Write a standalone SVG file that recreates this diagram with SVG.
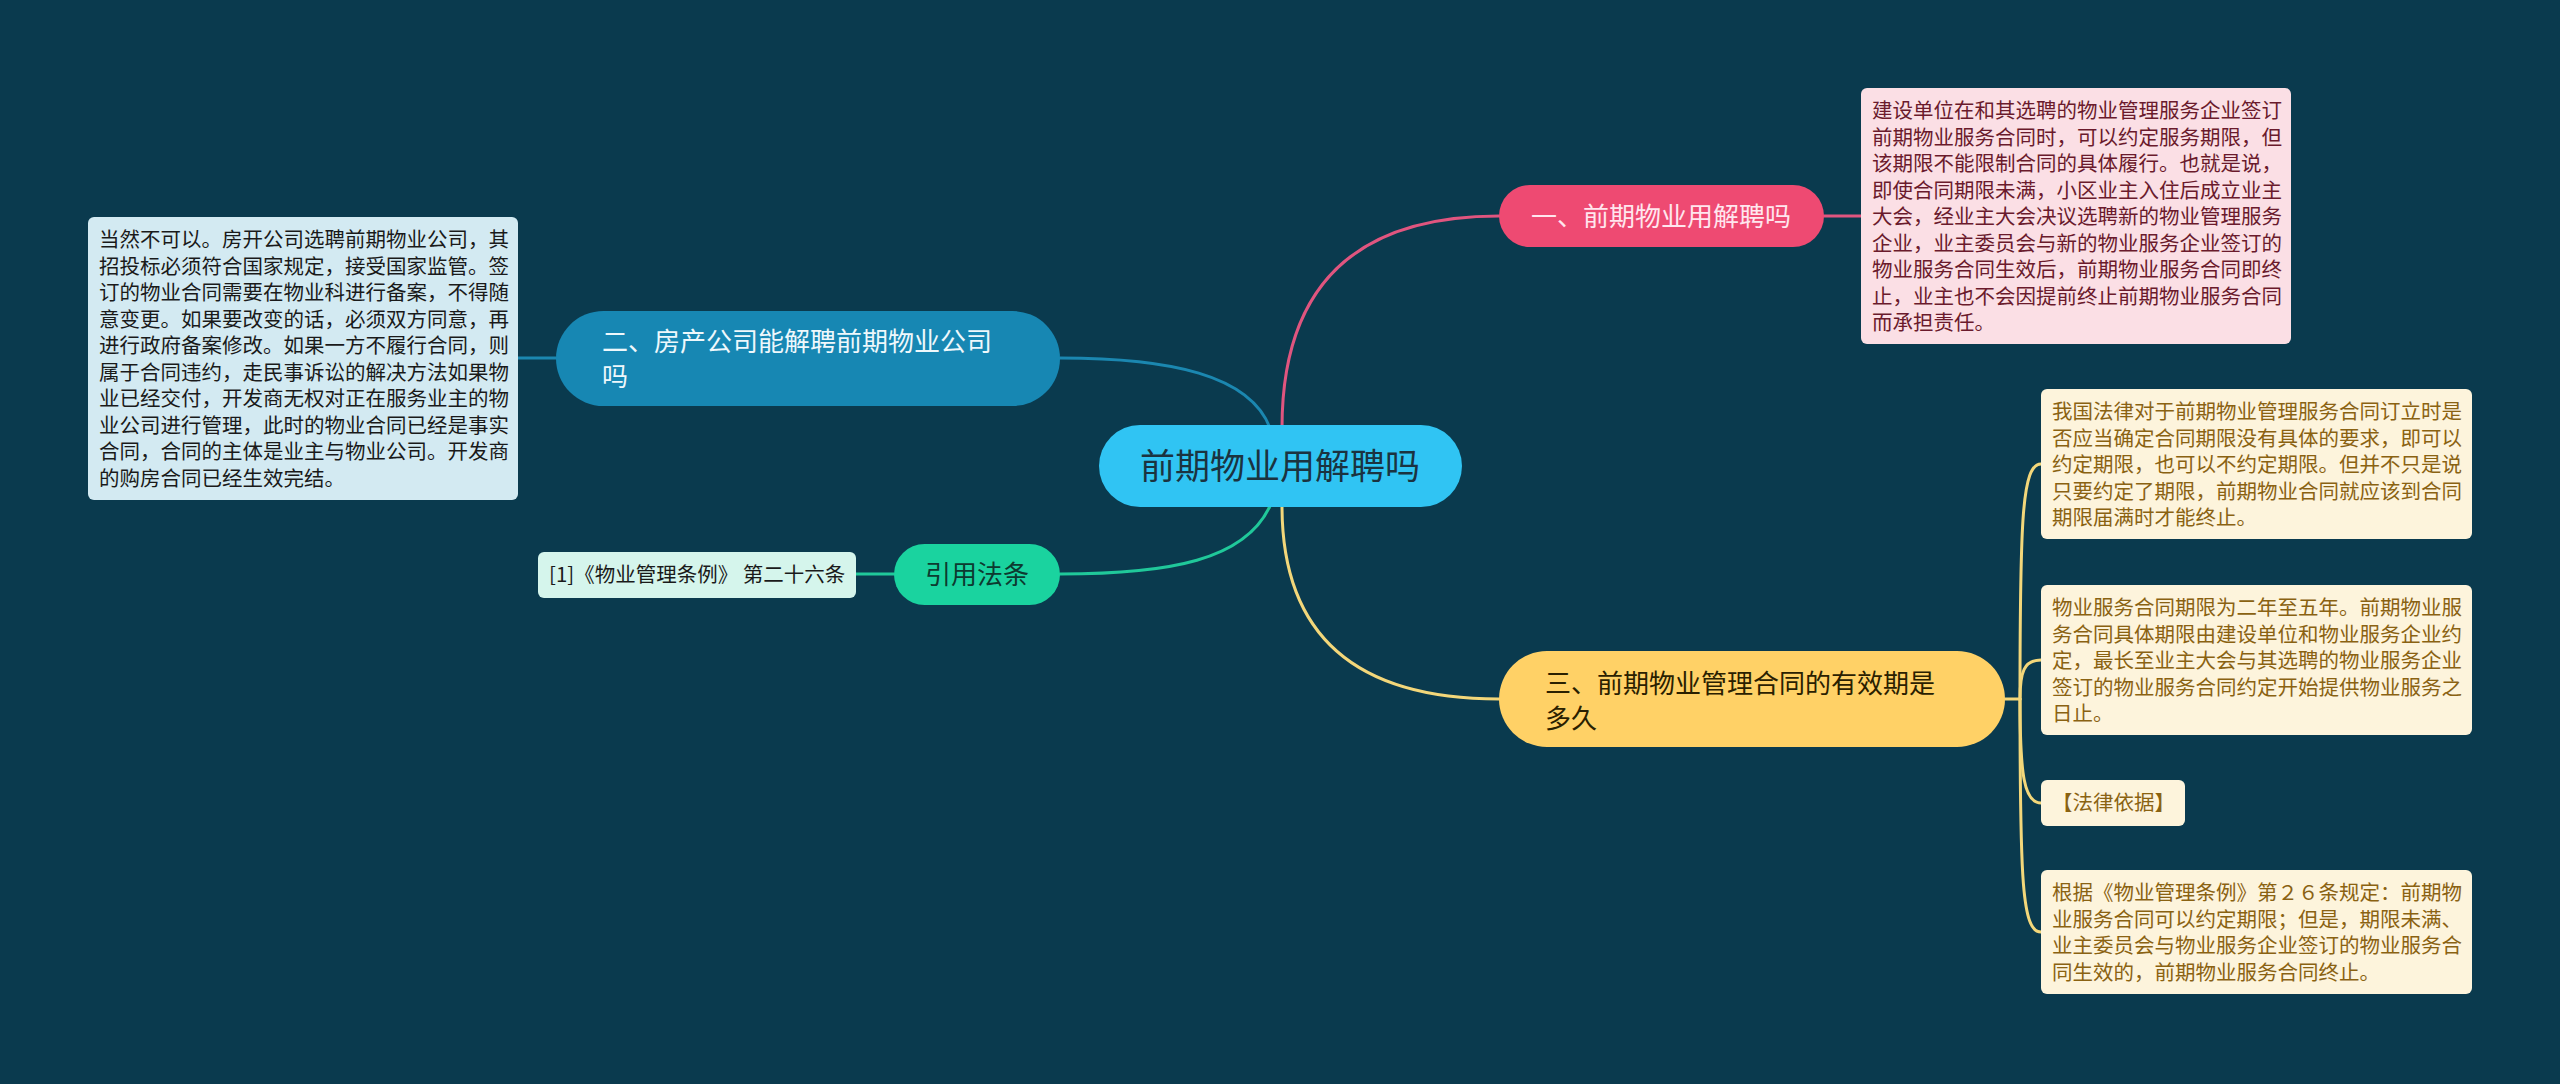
<svg xmlns="http://www.w3.org/2000/svg" width="2560" height="1084" viewBox="0 0 2560 1084">
<style>
text{font-family:"Noto Sans CJK SC","Noto Sans",sans-serif}
.leaf{font-size:20.5px}
.main{font-size:26px}
.conn{fill:none;stroke-width:3;stroke-linecap:round}
</style>
<rect x="0" y="0" width="2560" height="1084" fill="#0a3a4e"/>
<g id="connectors">
<path class="conn" stroke="#e0557f" d="M1282,428 Q1282,216 1499,216"/>
<path class="conn" stroke="#e0557f" d="M1824,216 L1861,216"/>
<path class="conn" stroke="#1b87b0" d="M1270,428 C1250,375 1170,358 1060,358"/>
<path class="conn" stroke="#1b87b0" d="M556,358 L518,358"/>
<path class="conn" stroke="#20c89a" d="M1270,506 C1245,560 1170,574 1060,574"/>
<path class="conn" stroke="#20c89a" d="M894,574 L856,574"/>
<path class="conn" stroke="#f3d77a" d="M1282,506 Q1282,699 1499,699"/>
<path class="conn" stroke="#f3d77a" d="M2005,699 L2020,699"/>
<path class="conn" stroke="#f3d77a" d="M2020,699 C2020,520 2022,464 2041,464"/>
<path class="conn" stroke="#f3d77a" d="M2020,699 C2020,672 2024,660 2041,660"/>
<path class="conn" stroke="#f3d77a" d="M2020,699 C2020,775 2024,803 2041,803"/>
<path class="conn" stroke="#f3d77a" d="M2020,699 C2020,880 2022,932 2041,932"/>
</g>
<g id="root">
<rect x="1099" y="425" width="363" height="82" rx="41" fill="#30c4f3"/>
<text x="1280" y="479" font-size="35" text-anchor="middle" fill="#1b3340">前期物业用解聘吗</text>
</g>
<g id="n1">
<rect x="1499" y="185" width="325" height="62" rx="31" fill="#ee4a72"/>
<text class="main" x="1661" y="225.5" text-anchor="middle" fill="#ffe6ee">一、前期物业用解聘吗</text>
</g>
<g id="n1-leaf">
<rect x="1861" y="88" width="430" height="256" rx="6" fill="#fbdfe5"/>
<text class="leaf" fill="#6a1a2c"><tspan x="1872" y="118">建设单位在和其选聘的物业管理服务企业签订</tspan><tspan x="1872" dy="26.5">前期物业服务合同时，可以约定服务期限，但</tspan><tspan x="1872" dy="26.5">该期限不能限制合同的具体履行。也就是说，</tspan><tspan x="1872" dy="26.5">即使合同期限未满，小区业主入住后成立业主</tspan><tspan x="1872" dy="26.5">大会，经业主大会决议选聘新的物业管理服务</tspan><tspan x="1872" dy="26.5">企业，业主委员会与新的物业服务企业签订的</tspan><tspan x="1872" dy="26.5">物业服务合同生效后，前期物业服务合同即终</tspan><tspan x="1872" dy="26.5">止，业主也不会因提前终止前期物业服务合同</tspan><tspan x="1872" dy="26.5">而承担责任。</tspan></text>
</g>
<g id="n2">
<rect x="556" y="311" width="504" height="95" rx="47.5" fill="#1787b3"/>
<text class="main" fill="#eef8fc"><tspan x="602" y="351">二、房产公司能解聘前期物业公司</tspan><tspan x="602" dy="35">吗</tspan></text>
</g>
<g id="n2-leaf">
<rect x="88" y="217" width="430" height="283" rx="6" fill="#d3eaf2"/>
<text class="leaf" fill="#1a1a1a"><tspan x="99" y="247">当然不可以。房开公司选聘前期物业公司，其</tspan><tspan x="99" dy="26.5">招投标必须符合国家规定，接受国家监管。签</tspan><tspan x="99" dy="26.5">订的物业合同需要在物业科进行备案，不得随</tspan><tspan x="99" dy="26.5">意变更。如果要改变的话，必须双方同意，再</tspan><tspan x="99" dy="26.5">进行政府备案修改。如果一方不履行合同，则</tspan><tspan x="99" dy="26.5">属于合同违约，走民事诉讼的解决方法如果物</tspan><tspan x="99" dy="26.5">业已经交付，开发商无权对正在服务业主的物</tspan><tspan x="99" dy="26.5">业公司进行管理，此时的物业合同已经是事实</tspan><tspan x="99" dy="26.5">合同，合同的主体是业主与物业公司。开发商</tspan><tspan x="99" dy="26.5">的购房合同已经生效完结。</tspan></text>
</g>
<g id="n3">
<rect x="894" y="544" width="166" height="61" rx="30.5" fill="#1ad39f"/>
<text class="main" x="977" y="583.5" text-anchor="middle" fill="#0d3a30">引用法条</text>
</g>
<g id="n3-leaf">
<rect x="538" y="552" width="318" height="46" rx="6" fill="#d5f5ec"/>
<text class="leaf" x="549" y="582" fill="#1a1a1a">[1]《物业管理条例》 第二十六条</text>
</g>
<g id="n4">
<rect x="1499" y="651" width="506" height="96" rx="48" fill="#ffd166"/>
<text class="main" fill="#2a2000"><tspan x="1545" y="693">三、前期物业管理合同的有效期是</tspan><tspan x="1545" dy="35">多久</tspan></text>
</g>
<g id="n4-leaf1">
<rect x="2041" y="389" width="431" height="150" rx="6" fill="#fdf4dc"/>
<text class="leaf" fill="#8a6212"><tspan x="2052" y="419">我国法律对于前期物业管理服务合同订立时是</tspan><tspan x="2052" dy="26.5">否应当确定合同期限没有具体的要求，即可以</tspan><tspan x="2052" dy="26.5">约定期限，也可以不约定期限。但并不只是说</tspan><tspan x="2052" dy="26.5">只要约定了期限，前期物业合同就应该到合同</tspan><tspan x="2052" dy="26.5">期限届满时才能终止。</tspan></text>
</g>
<g id="n4-leaf2">
<rect x="2041" y="585" width="431" height="150" rx="6" fill="#fdf4dc"/>
<text class="leaf" fill="#8a6212"><tspan x="2052" y="615">物业服务合同期限为二年至五年。前期物业服</tspan><tspan x="2052" dy="26.5">务合同具体期限由建设单位和物业服务企业约</tspan><tspan x="2052" dy="26.5">定，最长至业主大会与其选聘的物业服务企业</tspan><tspan x="2052" dy="26.5">签订的物业服务合同约定开始提供物业服务之</tspan><tspan x="2052" dy="26.5">日止。</tspan></text>
</g>
<g id="n4-leaf3">
<rect x="2041" y="780" width="144" height="46" rx="6" fill="#fdf4dc"/>
<text class="leaf" x="2052" y="810" fill="#8a6212">【法律依据】</text>
</g>
<g id="n4-leaf4">
<rect x="2041" y="870" width="431" height="124" rx="6" fill="#fdf4dc"/>
<text class="leaf" fill="#8a6212"><tspan x="2052" y="900">根据《物业管理条例》第２６条规定：前期物</tspan><tspan x="2052" dy="26.5">业服务合同可以约定期限；但是，期限未满、</tspan><tspan x="2052" dy="26.5">业主委员会与物业服务企业签订的物业服务合</tspan><tspan x="2052" dy="26.5">同生效的，前期物业服务合同终止。</tspan></text>
</g>
</svg>
